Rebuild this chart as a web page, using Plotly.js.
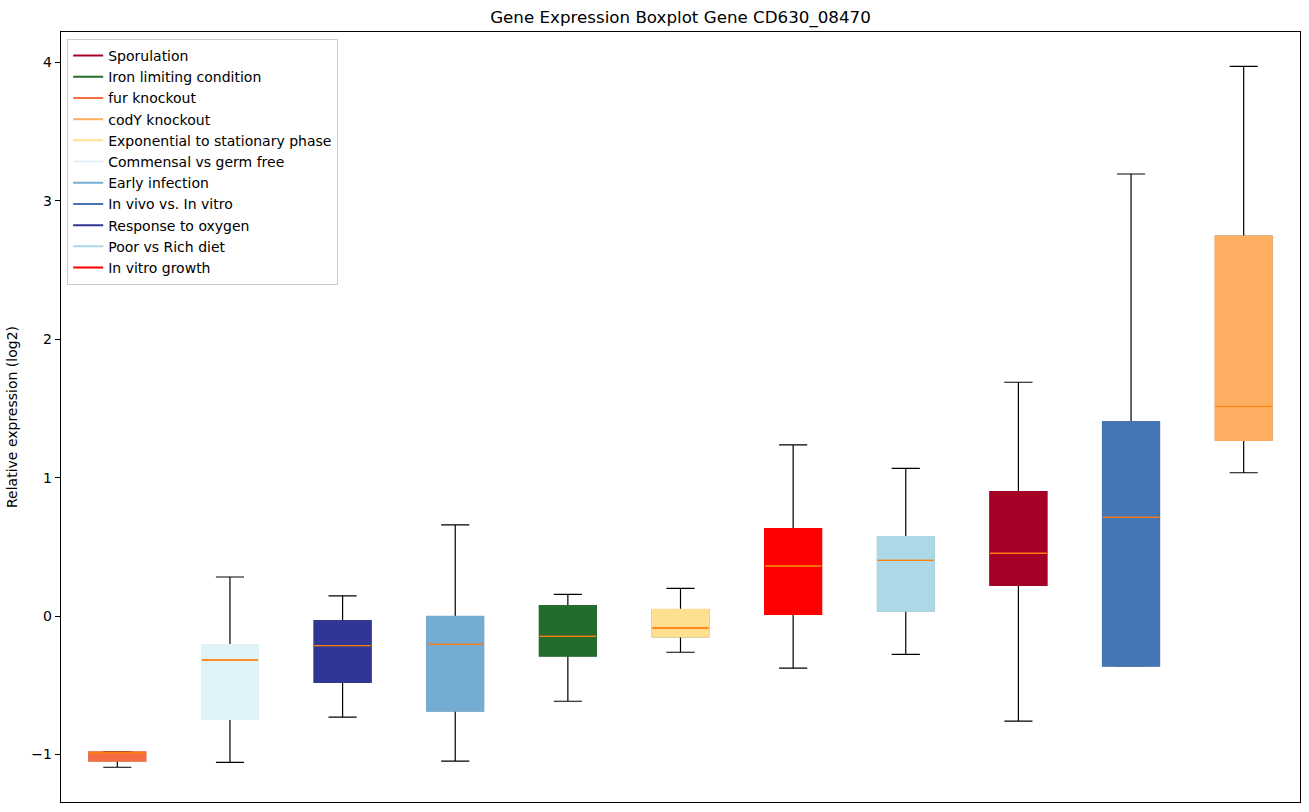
<!DOCTYPE html>
<html>
<head>
<meta charset="utf-8">
<script src="https://cdn.plot.ly/plotly-3.0.1.min.js"></script>
<style>html,body{margin:0;padding:0;background:#fff;}#chart{width:1309px;height:812px;}</style>
</head>
<body>
<div id="chart"></div>
<script>
// Box order (left to right)
const categories = ["fur knockout","Commensal vs germ free","Response to oxygen","Early infection","Iron limiting condition","Exponential to stationary phase","In vitro growth","Poor vs Rich diet","Sporulation","In vivo vs. In vitro","codY knockout"];
const boxColors = ["#f46d43","#e0f3f8","#313695","#74add1","#246b2e","#fee090","#ff0000","#add8e6","#a50026","#4575b4","#fdae61"];
const lowerWhisker = [-1.093,-1.057,-0.730,-1.048,-0.616,-0.262,-0.376,-0.277,-0.759,-0.360,1.035];
const q1Values     = [-1.046,-0.744,-0.477,-0.684,-0.287,-0.149, 0.014, 0.038, 0.224,-0.359,1.271];
const medianValues = [-0.990,-0.318,-0.214,-0.205,-0.147,-0.087, 0.361, 0.402, 0.453, 0.713,1.514];
const q3Values     = [-0.985,-0.210,-0.036,-0.005, 0.072, 0.046, 0.629, 0.571, 0.896, 1.402,2.743];
const upperWhisker = [-0.980, 0.282, 0.145, 0.658, 0.157, 0.200, 1.236, 1.067, 1.689, 3.194,3.971];
// Legend order
const legendOrder = ["Sporulation","Iron limiting condition","fur knockout","codY knockout","Exponential to stationary phase","Commensal vs germ free","Early infection","In vivo vs. In vitro","Response to oxygen","Poor vs Rich diet","In vitro growth"];
const medianColor = "#ff7f0e";

const traces = [];
categories.forEach((c, i) => {
  const pos = i + 1;
  // whiskers + caps (black)
  traces.push({type:"box", x:[pos], q1:[q1Values[i]], median:[medianValues[i]], q3:[q3Values[i]],
    lowerfence:[lowerWhisker[i]], upperfence:[upperWhisker[i]], width:0.5, whiskerwidth:0.5,
    line:{color:"#000", width:1.2}, fillcolor:"rgba(0,0,0,0)", boxpoints:false, showlegend:false, hoverinfo:"skip"});
  // filled box
  traces.push({type:"box", x:[pos], q1:[q1Values[i]], median:[q1Values[i]], q3:[q3Values[i]],
    lowerfence:[q1Values[i]], upperfence:[q3Values[i]], width:0.5, whiskerwidth:0,
    line:{color:boxColors[i], width:2}, fillcolor:boxColors[i], boxpoints:false, showlegend:false, hoverinfo:"skip"});
  // median line
  traces.push({type:"box", x:[pos], q1:[medianValues[i]], median:[medianValues[i]], q3:[medianValues[i]],
    lowerfence:[medianValues[i]], upperfence:[medianValues[i]], width:0.5, whiskerwidth:0,
    line:{color:medianColor, width:1}, fillcolor:"rgba(0,0,0,0)", boxpoints:false, showlegend:false, hoverinfo:"skip"});
});
legendOrder.forEach(name => {
  const idx = categories.indexOf(name);
  traces.push({type:"scatter", mode:"lines", x:[null], y:[null], name:name,
    line:{color:boxColors[idx], width:2}, hoverinfo:"skip", showlegend:true});
});

const layout = {
  width:1309, height:812,
  margin:{l:61, r:9, t:32, b:10},
  paper_bgcolor:"#fff", plot_bgcolor:"#fff",
  font:{family:"DejaVu Sans", size:14, color:"#000"},
  title:{text:"Gene Expression Boxplot Gene CD630_08470", x:0.5, xref:"paper", y:0.979, yanchor:"middle", font:{size:16.7, color:"#000"}},
  boxmode:"overlay",
  xaxis:{range:[0.5,11.5], showticklabels:false, ticks:"", showgrid:false, zeroline:false,
    showline:true, linecolor:"#000", linewidth:1.2, mirror:true},
  yaxis:{range:[-1.344,4.220], tickvals:[-1,0,1,2,3,4], ticks:"outside", ticklen:5, tickwidth:1, tickcolor:"#000",
    showgrid:false, zeroline:false, showline:true, linecolor:"#000", linewidth:1.2, mirror:true,
    tickfont:{size:14}, title:{text:"Relative expression (log2)", font:{size:14}, standoff:10}},
  legend:{x:0.005, y:0.991, xanchor:"left", yanchor:"top", bgcolor:"#fff", bordercolor:"#ccc", borderwidth:1,
    font:{size:14}, tracegroupgap:0, itemwidth:30},
  showlegend:true
};
Plotly.newPlot("chart", traces, layout, {displayModeBar:false, staticPlot:true});
</script>
</body>
</html>
